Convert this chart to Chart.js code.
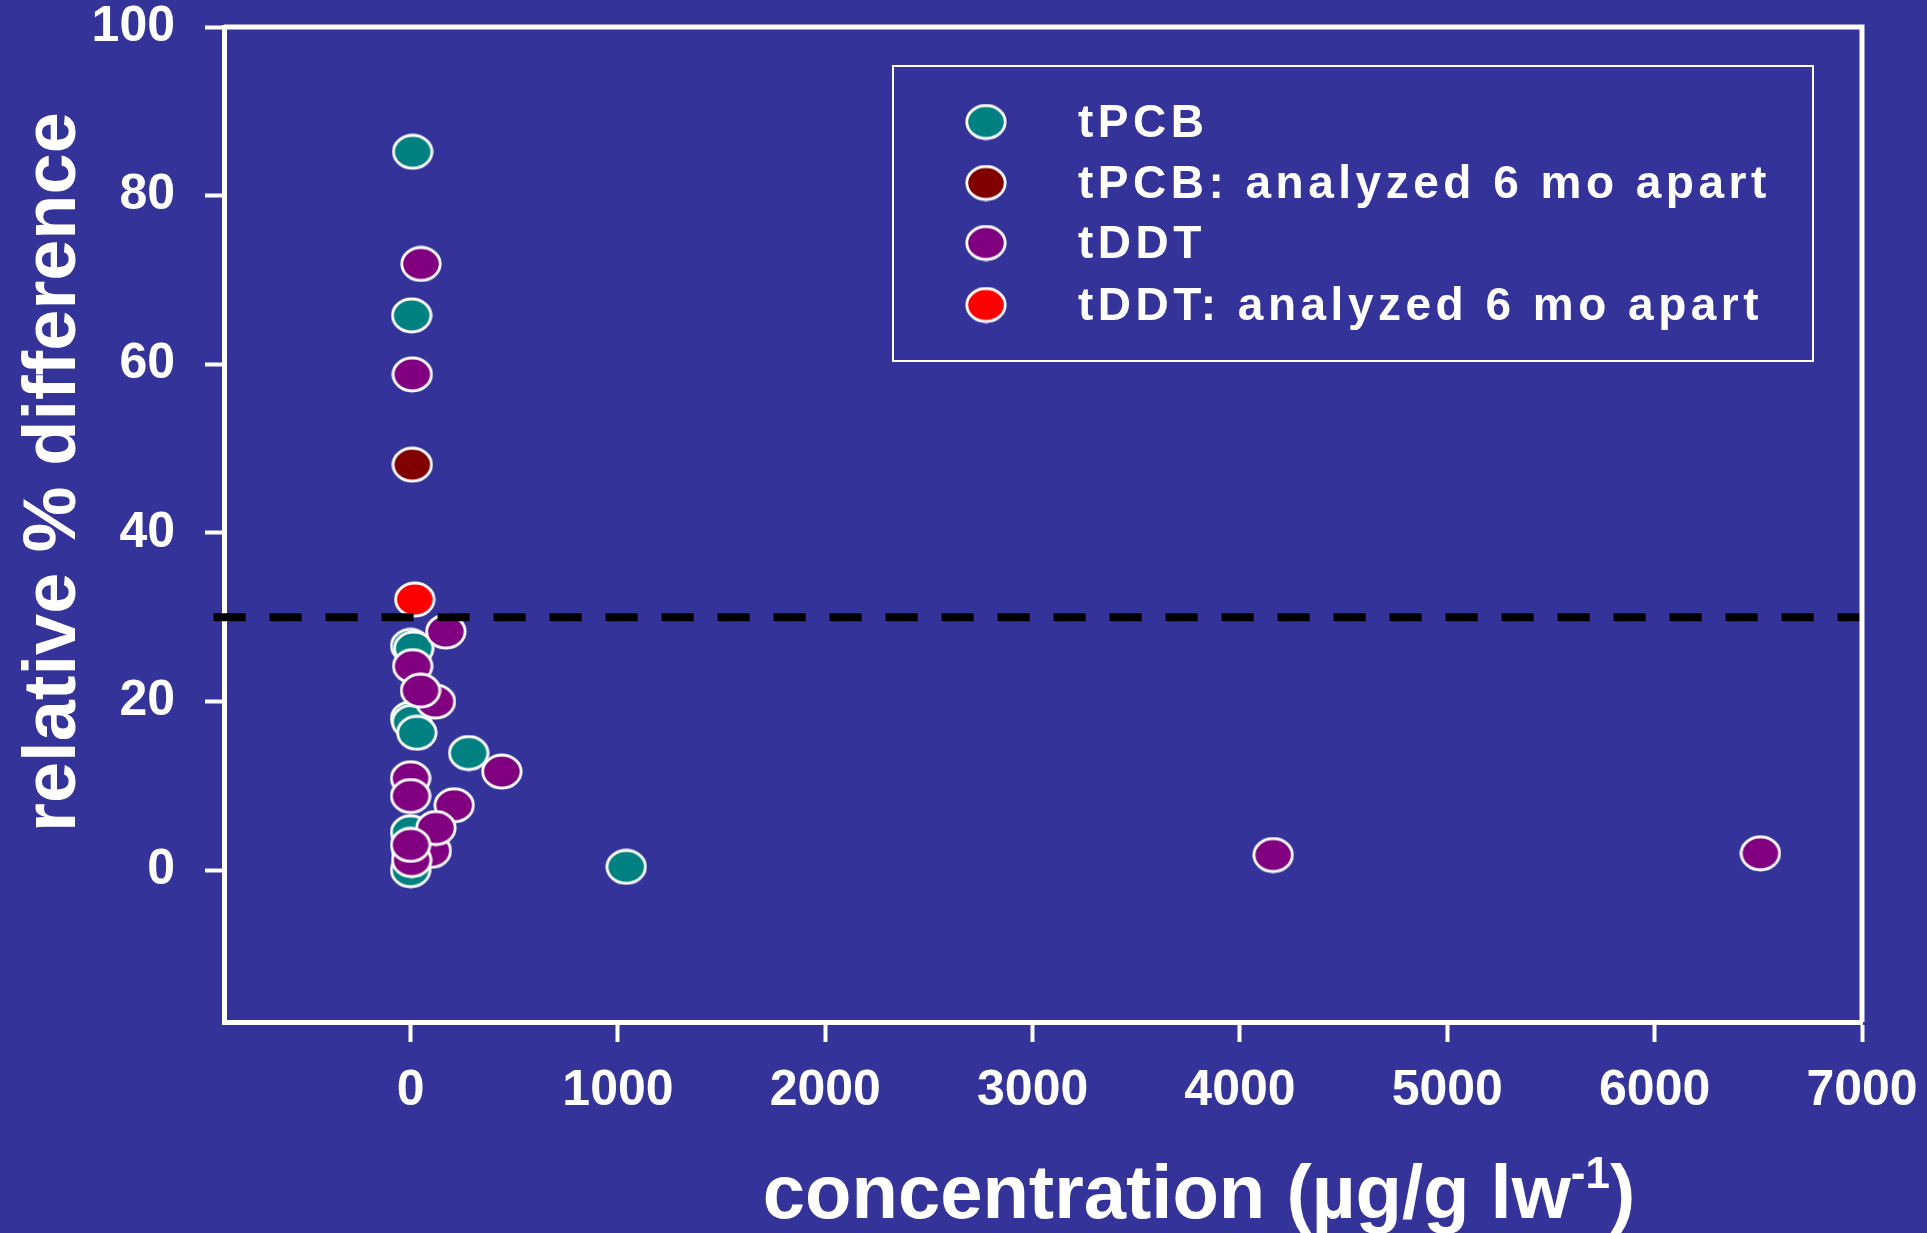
<!DOCTYPE html>
<html>
<head>
<meta charset="utf-8">
<script src="https://cdn.jsdelivr.net/npm/chart.js@4.4.0/dist/chart.umd.min.js"></script>
<style>
  html, body { margin: 0; padding: 0; background: #333399; }
  #wrap { width: 1927px; height: 1233px; }
</style>
</head>
<body>
<div id="wrap"><canvas id="dataChart" width="1927" height="1233"></canvas></div>
<script>
// values (x = concentration, y = relative % difference)
const tpcbX = [10, 5, 0, 15, 0, 5, 30, 280, 0, 5, 0, 1040];
const tpcbY = [85.2, 65.8, 26.6, 26.3, 18.0, 17.6, 16.3, 13.9, 4.5, 2.4, 0.0, 0.4];

const tpcb6moX = [8];
const tpcb6moY = [48.1];

const tddtX = [50, 8, 170, 10, 120, 48, 440, 0, 0, 210, 100, 122, 5, 0, 4160, 6510];
const tddtY = [71.9, 58.8, 28.3, 24.2, 20.0, 21.3, 11.7, 10.9, 8.8, 7.7, 2.3, 5.0, 1.2, 3.0, 1.8, 2.0];

const tddt6moX = [20];
const tddt6moY = [32.1];

const thresholdX = [-950, 7000];
const thresholdY = [30, 30];

const xTickValues = [0, 1000, 2000, 3000, 4000, 5000, 6000, 7000];
const yTickValues = [0, 20, 40, 60, 80, 100];

const seriesLabels = ['tPCB', 'tPCB: analyzed 6 mo apart', 'tDDT', 'tDDT: analyzed 6 mo apart'];
const seriesColors = ['#008080', '#800000', '#800080', '#ff0000'];

const FONT = "'Liberation Sans', Arial, sans-serif";

function pairs(xs, ys) {
    return xs.map((x, i) => ({ x: x, y: ys[i] }));
}

// ellipse-shaped marker with white rim
function makeMarker(fill) {
    const c = document.createElement('canvas');
    c.width = 42;
    c.height = 37;
    const g = c.getContext('2d');
    g.beginPath();
    g.ellipse(21, 18.5, 19.2, 16.5, 0, 0, Math.PI * 2);
    g.fillStyle = fill;
    g.fill();
    g.lineWidth = 2.8;
    g.strokeStyle = '#ffffff';
    g.stroke();
    return c;
}
const markers = seriesColors.map(makeMarker);

// white frame round the plot (top + right, the axes draw bottom + left)
const frame = {
    id: 'frame',
    afterDraw(chart) {
        const { ctx, chartArea } = chart;
        ctx.save();
        ctx.strokeStyle = '#ffffff';
        ctx.lineWidth = 5;
        ctx.beginPath();
        ctx.moveTo(chartArea.left, chartArea.top);
        ctx.lineTo(chartArea.right, chartArea.top);
        ctx.lineTo(chartArea.right, chartArea.bottom);
        ctx.stroke();
        ctx.restore();
    }
};

// legend box inside the plot
const legendBox = {
    id: 'legendBox',
    afterDraw(chart) {
        const ctx = chart.ctx;
        const box = { left: 893, top: 66, right: 1813, bottom: 361 };
        const rows = [122, 183, 243, 305];
        ctx.save();
        ctx.strokeStyle = '#ffffff';
        ctx.lineWidth = 2;
        ctx.strokeRect(box.left, box.top, box.right - box.left, box.bottom - box.top);
        ctx.fillStyle = '#ffffff';
        ctx.font = 'bold 46px ' + FONT;
        ctx.textBaseline = 'middle';
        ctx.textAlign = 'left';
        ctx.letterSpacing = '4.5px';
        seriesLabels.forEach((label, i) => {
            const m = markers[i];
            ctx.drawImage(m, 986 - m.width / 2, rows[i] - m.height / 2);
            ctx.fillText(label, 1078, rows[i] + 2);
        });
        ctx.restore();
    }
};

// axis titles (x title needs a superscript)
const axisTitles = {
    id: 'axisTitles',
    afterDraw(chart) {
        const ctx = chart.ctx;
        ctx.save();
        ctx.fillStyle = '#ffffff';

        // y title
        ctx.font = 'bold 74px ' + FONT;
        ctx.translate(75, 472);
        ctx.rotate(-Math.PI / 2);
        ctx.textAlign = 'center';
        ctx.textBaseline = 'alphabetic';
        ctx.fillText('relative % difference', 0, 0);
        ctx.setTransform(1, 0, 0, 1, 0, 0);

        // x title
        const main = 'concentration (µg/g lw';
        const sup = '-1';
        const close = ')';
        ctx.textAlign = 'left';
        ctx.font = 'bold 76px ' + FONT;
        const w1 = ctx.measureText(main).width;
        const w3 = ctx.measureText(close).width;
        ctx.font = 'bold 44px ' + FONT;
        const w2 = ctx.measureText(sup).width;
        const total = w1 + w2 + w3;
        let x = 1199 - total / 2;
        const base = 1218;
        ctx.font = 'bold 76px ' + FONT;
        ctx.fillText(main, x, base);
        x += w1;
        ctx.font = 'bold 44px ' + FONT;
        ctx.fillText(sup, x, base - 30);
        x += w2;
        ctx.font = 'bold 76px ' + FONT;
        ctx.fillText(close, x, base);
        ctx.restore();
    }
};

const ctx = document.getElementById('dataChart').getContext('2d');

const chart = new Chart(ctx, {
    type: 'scatter',
    data: {
        datasets: [
            {
                label: 'threshold',
                data: pairs(thresholdX, thresholdY),
                showLine: true,
                clip: false,
                borderColor: '#000000',
                borderWidth: 8,
                borderDash: [32, 24],
                pointRadius: 0,
                order: 0
            },
            {
                label: seriesLabels[3],
                data: pairs(tddt6moX, tddt6moY),
                pointStyle: markers[3],
                order: 1
            },
            {
                label: seriesLabels[2],
                data: pairs(tddtX, tddtY),
                pointStyle: markers[2],
                order: 2
            },
            {
                label: seriesLabels[1],
                data: pairs(tpcb6moX, tpcb6moY),
                pointStyle: markers[1],
                order: 3
            },
            {
                label: seriesLabels[0],
                data: pairs(tpcbX, tpcbY),
                pointStyle: markers[0],
                order: 4
            }
        ]
    },
    options: {
        responsive: false,
        animation: false,
        events: [],
        layout: {
            padding: { top: 27, right: 65, left: 0, bottom: 0 }
        },
        plugins: {
            legend: { display: false },
            tooltip: { enabled: false }
        },
        scales: {
            x: {
                type: 'linear',
                min: -900,
                max: 7000,
                afterFit: s => {
                    s.height = 211;
                    s.paddingLeft = 0;
                    s.paddingRight = 0;
                },
                afterBuildTicks: s => { s.ticks = xTickValues.map(v => ({ value: v })); },
                border: { color: '#ffffff', width: 5 },
                grid: {
                    drawOnChartArea: false,
                    drawTicks: true,
                    tickLength: 20,
                    tickWidth: 4,
                    tickColor: '#ffffff'
                },
                ticks: {
                    color: '#ffffff',
                    padding: 19,
                    maxRotation: 0,
                    callback: v => String(v),
                    font: { family: FONT, size: 50, weight: 'bold' }
                }
            },
            y: {
                min: -18,
                max: 100,
                afterFit: s => {
                    s.width = 224;
                    s.paddingTop = 0;
                    s.paddingBottom = 0;
                },
                afterBuildTicks: s => { s.ticks = yTickValues.map(v => ({ value: v })); },
                border: { color: '#ffffff', width: 5 },
                grid: {
                    drawOnChartArea: false,
                    drawTicks: true,
                    tickLength: 19,
                    tickWidth: 4,
                    tickColor: '#ffffff'
                },
                ticks: {
                    color: '#ffffff',
                    padding: 30,
                    callback: v => String(v),
                    font: { family: FONT, size: 50, weight: 'bold' }
                }
            }
        }
    },
    plugins: [frame, legendBox, axisTitles]
});
</script>
</body>
</html>
